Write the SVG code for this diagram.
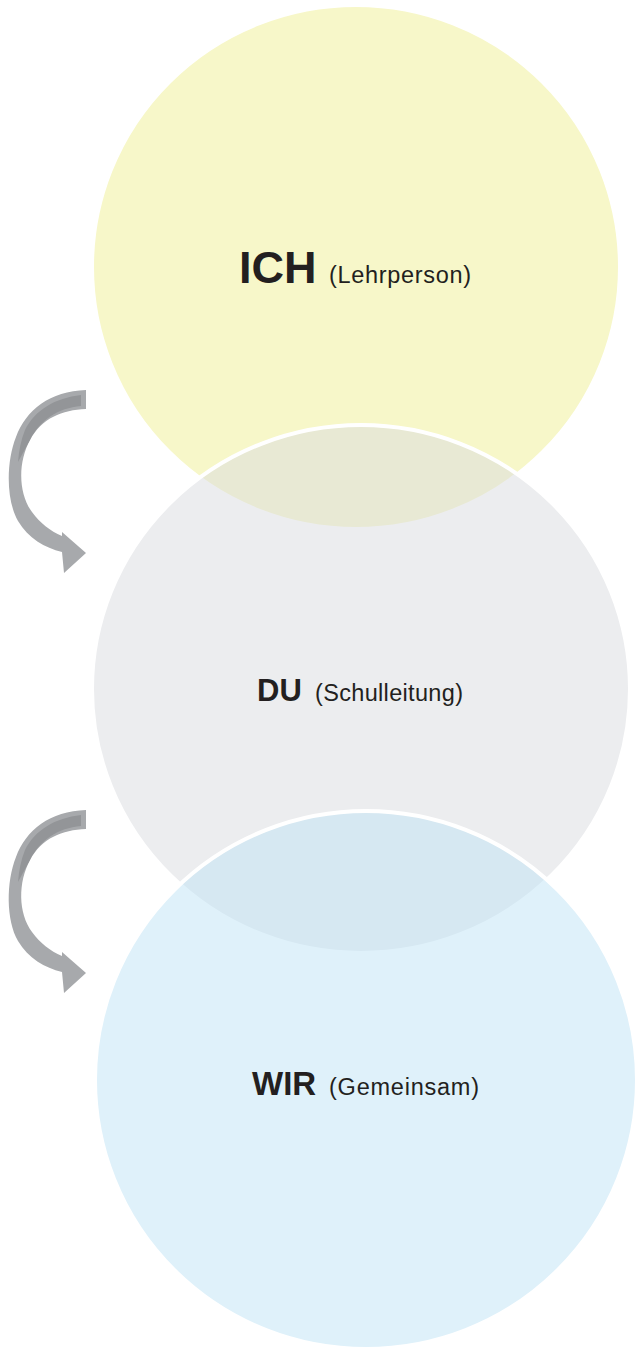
<svg xmlns="http://www.w3.org/2000/svg" width="636" height="1350" viewBox="0 0 636 1350">
  <defs>
    <style>
      .circ { stroke: #ffffff; stroke-width: 4; }
      .lbl-b { font-family: "Liberation Sans", Arial, sans-serif; font-weight: bold; fill: #231f20; }
      .lbl { font-family: "Liberation Sans", Arial, sans-serif; fill: #231f20; font-size: 23.5px; }
      .arrow { fill: #a7a9ac; }
      .stripe { fill: #939598; }
    </style>
    <g id="curved-arrow">
      <path class="arrow" d="M 86 390 L 86 409 C 62 410, 42 418, 30 440 C 18 462, 18 493, 32 512 C 40 523, 50 531, 62 536 L 62 532 L 86 553 L 64 573 L 62 552 C 45 548, 28 538, 18 521 C 6 500, 6 462, 16 437 C 26 410, 50 391, 86 390 Z"/>
      <path class="stripe" d="M 81 395 L 81 406 C 58 408, 40 420, 30 440 C 26 447, 22 455, 18 462 C 19 450, 21 440, 25 430 C 35 410, 55 398, 81 395 Z"/>
    </g>
  </defs>
  <rect x="0" y="0" width="636" height="1350" fill="#ffffff"/>
  <g id="node-ich">
    <ellipse class="circ" cx="356" cy="267" rx="264" ry="262" fill="#f7f7c9"/>
  </g>
  <g id="node-du">
    <ellipse class="circ" cx="361" cy="689" rx="269" ry="264" fill="#d9dbdf" fill-opacity="0.5"/>
  </g>
  <g id="node-wir">
    <ellipse class="circ" cx="366" cy="1080" rx="271" ry="269" fill="#bfe3f5" fill-opacity="0.5"/>
  </g>
  <g id="labels">
    <text class="lbl-b" x="239" y="283" font-size="45">ICH</text>
    <text class="lbl" x="329" y="283" textLength="142" lengthAdjust="spacing">(Lehrperson)</text>
    <text class="lbl-b" x="257" y="701" font-size="31">DU</text>
    <text class="lbl" x="315" y="701" textLength="148" lengthAdjust="spacing">(Schulleitung)</text>
    <text class="lbl-b" x="252" y="1095" font-size="33">WIR</text>
    <text class="lbl" x="329" y="1095" textLength="150" lengthAdjust="spacing">(Gemeinsam)</text>
  </g>
  <g id="connectors">
    <use href="#curved-arrow"/>
    <use href="#curved-arrow" transform="translate(0,420)"/>
  </g>
</svg>
